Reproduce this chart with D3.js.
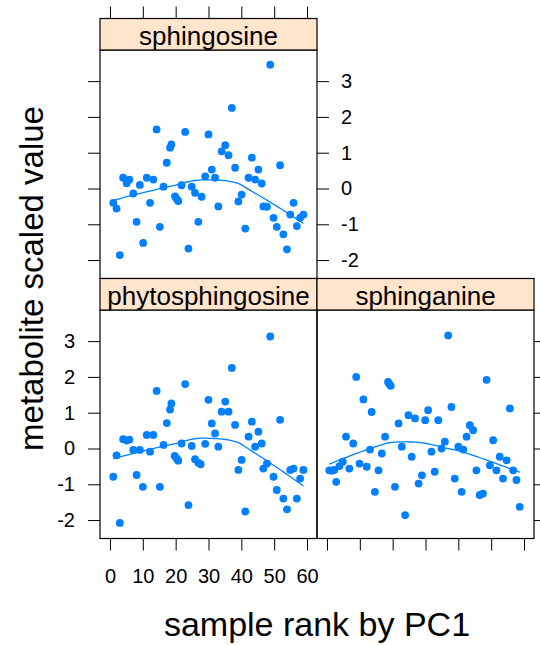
<!DOCTYPE html>
<html>
<head>
<meta charset="utf-8">
<script src="https://cdn.jsdelivr.net/npm/d3@7"></script>
<style>
  body { margin: 0; background: #fff; }
  svg { display: block; font-family: "Liberation Sans", Arial, sans-serif; }
</style>
</head>
<body>
<div id="chart"></div>
<script>
// [sample rank, scaled value]
var sphingosine = [
  [1.0, -0.40], [2.0, -0.56], [3.0, -1.86], [4.0, 0.30], [5.1, 0.15], [5.9, 0.25],
  [7.1, -0.14], [8.1, -0.93], [9.1, 0.10], [10.1, -1.52], [11.2, 0.30], [12.2, -0.40],
  [13.2, 0.25], [14.2, 1.65], [15.2, -1.07], [16.3, 0.05], [17.3, 0.72], [18.3, 1.14],
  [18.7, 1.23], [19.8, -0.22], [20.3, -0.29], [20.8, -0.35], [21.8, 0.09], [22.9, 1.58],
  [23.9, -1.68], [24.9, 0.05], [25.9, -0.12], [26.9, -0.93], [27.9, -0.23], [29.0, 0.34],
  [30.0, 1.51], [31.0, 0.53], [32.0, 0.30], [33.0, -0.50], [34.0, 1.04], [35.1, 1.21],
  [36.1, 0.93], [37.1, 2.25], [38.1, 0.58], [39.1, -0.36], [40.1, -0.17], [41.2, -1.12],
  [42.2, 0.30], [43.2, 0.86], [44.2, 0.25], [45.2, 0.53], [46.2, 0.14], [46.7, -0.50],
  [47.8, -0.51], [48.8, 3.46], [49.8, -0.82], [50.8, -1.07], [51.8, 0.65], [52.8, -1.28],
  [53.9, -1.70], [54.9, -0.73], [55.9, -0.40], [56.9, -1.05], [57.9, -0.82], [58.9, -0.73]
];
var phytosphingosine = [
  [1.0, -0.79], [2.0, -0.19], [3.0, -2.08], [4.0, 0.26], [5.1, 0.22], [5.9, 0.25],
  [7.1, -0.04], [8.1, -0.74], [9.1, -0.04], [10.0, -1.07], [11.2, 0.38], [12.2, -0.09],
  [13.2, 0.38], [14.2, 1.61], [15.2, -1.07], [16.3, 0.10], [17.3, 0.71], [18.3, 1.09],
  [18.7, 1.26], [19.7, -0.21], [20.3, -0.28], [20.8, -0.34], [21.8, 0.14], [22.9, 1.80],
  [23.9, -1.58], [24.9, 0.07], [25.9, -0.30], [26.9, -0.40], [27.6, -0.44], [29.0, 0.13],
  [30.0, 1.36], [31.0, 0.70], [32.0, 0.42], [33.0, 0.05], [34.0, 1.03], [35.1, 1.31],
  [36.1, 1.03], [37.1, 2.25], [38.1, 0.66], [39.1, -0.60], [40.1, -0.32], [41.2, -1.76],
  [42.2, 0.33], [43.2, 0.75], [44.2, 0.05], [45.2, 0.47], [46.2, 0.14], [46.7, -0.56],
  [47.8, -0.42], [48.8, 3.13], [49.8, -0.79], [50.8, -1.16], [51.8, 0.80], [52.8, -1.40],
  [53.9, -1.70], [54.9, -0.60], [55.9, -0.56], [56.9, -1.40], [57.9, -0.84], [58.9, -0.60]
];
var sphinganine = [
  [0.7, -0.61], [1.5, -0.62], [2.2, -0.60], [2.8, -0.93], [3.8, -0.49], [4.8, -0.37],
  [5.8, 0.33], [6.8, -0.56], [8.0, 0.14], [8.9, 2.00], [9.9, -0.42], [11.1, 1.37],
  [12.1, -0.51], [13.1, -0.03], [13.6, 1.02], [14.6, -1.21], [15.7, -0.61], [16.7, -0.14],
  [17.7, 0.33], [18.6, 1.86], [19.0, 1.80], [19.4, 1.75], [20.7, -1.07], [21.8, 0.70],
  [22.8, 0.05], [23.8, -1.86], [24.8, 0.93], [25.8, -0.23], [26.8, 0.84], [27.9, -0.98],
  [28.9, -0.75], [29.9, 0.79], [30.8, 1.07], [31.8, -0.09], [32.8, -0.65], [33.9, 0.79],
  [34.9, 0.00], [35.9, 0.19], [36.9, 3.16], [37.9, 1.16], [38.9, -0.84], [40.0, 0.05],
  [41.0, -1.21], [41.5, -0.03], [42.5, 0.33], [43.5, 0.65], [44.5, 0.51], [45.5, -0.61],
  [46.5, -1.30], [47.5, -1.26], [48.6, 1.92], [49.6, -0.47], [50.6, 0.23], [51.6, -0.61],
  [52.6, -0.23], [53.6, -0.84], [54.7, -0.33], [55.7, 1.12], [56.7, -0.61], [57.7, -0.88],
  [58.7, -1.63]
];
var xTicks = [0, 10, 20, 30, 40, 50, 60];
var yTicks = [-2, -1, 0, 1, 2, 3];
var xDomain = [-3.04, 63.04];
var yDomain = [-2.515, 3.87];

var width = 540,
  height = 645;
var left = 100,
  panelW = 217,
  top0 = 18.5,
  stripH = 31.5,
  panelH = 228.5,
  tick = 12;
var blue = "#0080ff";

var x = d3.scaleLinear().domain(xDomain).range([0, panelW]);
var y = d3.scaleLinear().domain(yDomain).range([panelH, 0]);

// robust ("symmetric") local linear loess, span 2/3, as panel.loess does
function loessSmooth(data, span, nOut) {
  var xs = data.map((d) => d[0]),
    ys = data.map((d) => d[1]);
  var n = xs.length,
    q = Math.floor(n * span);
  var rw = new Array(n).fill(1);

  function fitAt(x0) {
    var dist = xs.map((v) => Math.abs(v - x0));
    var h = dist.slice().sort((a, b) => a - b)[q - 1] * 1.0001;
    var sw = 0, sx = 0, sy = 0, sxx = 0, sxy = 0;
    for (var j = 0; j < n; j++) {
      var u = dist[j] / h;
      if (u >= 1) continue;
      var w = Math.pow(1 - u * u * u, 3) * rw[j];
      sw += w;
      sx += w * xs[j];
      sy += w * ys[j];
      sxx += w * xs[j] * xs[j];
      sxy += w * xs[j] * ys[j];
    }
    var mx = sx / sw, my = sy / sw;
    var den = sxx - sw * mx * mx;
    var b = den > 1e-12 ? (sxy - sw * mx * my) / den : 0;
    return my + b * (x0 - mx);
  }

  for (var it = 0; it < 3; it++) {
    var res = xs.map((v, j) => ys[j] - fitAt(v));
    var cmad = 6 * d3.median(res.map(Math.abs));
    rw = res.map(function (r) {
      var u = Math.abs(r) / cmad;
      return u < 1 ? Math.pow(1 - u * u, 2) : 0;
    });
  }

  var [lo, hi] = d3.extent(xs);
  return d3.range(nOut).map(function (i) {
    var x0 = lo + (i * (hi - lo)) / (nOut - 1);
    return [x0, fitAt(x0)];
  });
}

var svg = d3
  .select("#chart")
  .append("svg")
  .attr("width", width)
  .attr("height", height);

var panels = [
  { name: "sphingosine", data: sphingosine, col: 0, row: 0 },
  { name: "phytosphingosine", data: phytosphingosine, col: 0, row: 1 },
  { name: "sphinganine", data: sphinganine, col: 1, row: 1 },
];

function styleAxis(g, fontSize) {
  g.select(".domain").remove();
  g.selectAll("line").attr("stroke", "#000").attr("stroke-width", 1);
  g.selectAll("text")
    .attr("fill", "#000")
    .style("font-size", fontSize + "px")
    .style("font-family", '"Liberation Sans", Arial, sans-serif');
}

var line = d3
  .line()
  .x((d) => x(d[0]))
  .y((d) => y(d[1]));

panels.forEach(function (p) {
  var px = left + p.col * panelW;
  var sy = top0 + p.row * (stripH + panelH);
  var py = sy + stripH;
  var g = svg.append("g").attr("transform", `translate(${px},${py})`);

  // strip
  svg
    .append("rect")
    .attr("x", px)
    .attr("y", sy)
    .attr("width", panelW)
    .attr("height", stripH)
    .attr("fill", "#ffe5cc")
    .attr("stroke", "#000")
    .attr("stroke-width", 1.2);
  svg
    .append("text")
    .attr("x", px + panelW / 2)
    .attr("y", sy + stripH / 2)
    .attr("dy", "0.41em")
    .attr("text-anchor", "middle")
    .style("font-size", "26px")
    .text(p.name);

  // points
  g.append("g")
    .selectAll("circle")
    .data(p.data)
    .enter()
    .append("circle")
    .attr("cx", (d) => x(d[0]))
    .attr("cy", (d) => y(d[1]))
    .attr("r", 3.9)
    .attr("fill", blue);

  // smooth
  g.append("path")
    .attr("d", line(loessSmooth(p.data, 2 / 3, 50)))
    .attr("fill", "none")
    .attr("stroke", blue)
    .attr("stroke-width", 1.3);

  // border
  g.append("rect")
    .attr("width", panelW)
    .attr("height", panelH)
    .attr("fill", "none")
    .attr("stroke", "#000")
    .attr("stroke-width", 1.2);
});

// axes on the outer sides only, lattice style
var fmt = (d) => String(d);
var p0x = left,
  p1x = left + panelW;
var row0 = top0 + stripH,
  row1 = top0 + 2 * stripH + panelH;

svg.append("g").attr("transform", `translate(${p0x},${top0})`)
  .call(d3.axisTop(x).tickValues(xTicks).tickSize(tick).tickFormat(""))
  .call(styleAxis, 20);
svg.append("g").attr("transform", `translate(${p0x},${row0})`)
  .call(d3.axisLeft(y).tickValues(yTicks).tickSize(tick).tickFormat(""))
  .call(styleAxis, 20);
svg.append("g").attr("transform", `translate(${p1x},${row0})`)
  .call(d3.axisRight(y).tickValues(yTicks).tickSize(tick).tickPadding(12).tickFormat(fmt))
  .call(styleAxis, 20);
svg.append("g").attr("transform", `translate(${p0x},${row1})`)
  .call(d3.axisLeft(y).tickValues(yTicks).tickSize(tick).tickPadding(13).tickFormat(fmt))
  .call(styleAxis, 20);
svg.append("g").attr("transform", `translate(${p0x},${row1 + panelH})`)
  .call(d3.axisBottom(x).tickValues(xTicks).tickSize(tick).tickPadding(18).tickFormat(fmt))
  .call(styleAxis, 20);
svg.append("g").attr("transform", `translate(${p1x},${row1 + panelH})`)
  .call(d3.axisBottom(x).tickValues(xTicks).tickSize(tick).tickFormat(""))
  .call(styleAxis, 20);
svg.append("g").attr("transform", `translate(${p1x + panelW},${row1})`)
  .call(d3.axisRight(y).tickValues(yTicks).tickSize(tick).tickFormat(""))
  .call(styleAxis, 20);

// axis titles
svg.append("text")
  .attr("x", left + panelW)
  .attr("y", 636)
  .attr("text-anchor", "middle")
  .style("font-size", "34px")
  .text("sample rank by PC1");
svg.append("text")
  .attr("transform", `translate(43,${(top0 + row1 + panelH) / 2}) rotate(-90)`)
  .attr("text-anchor", "middle")
  .style("font-size", "33px")
  .text("metabolite scaled value");
</script>
</body>
</html>
